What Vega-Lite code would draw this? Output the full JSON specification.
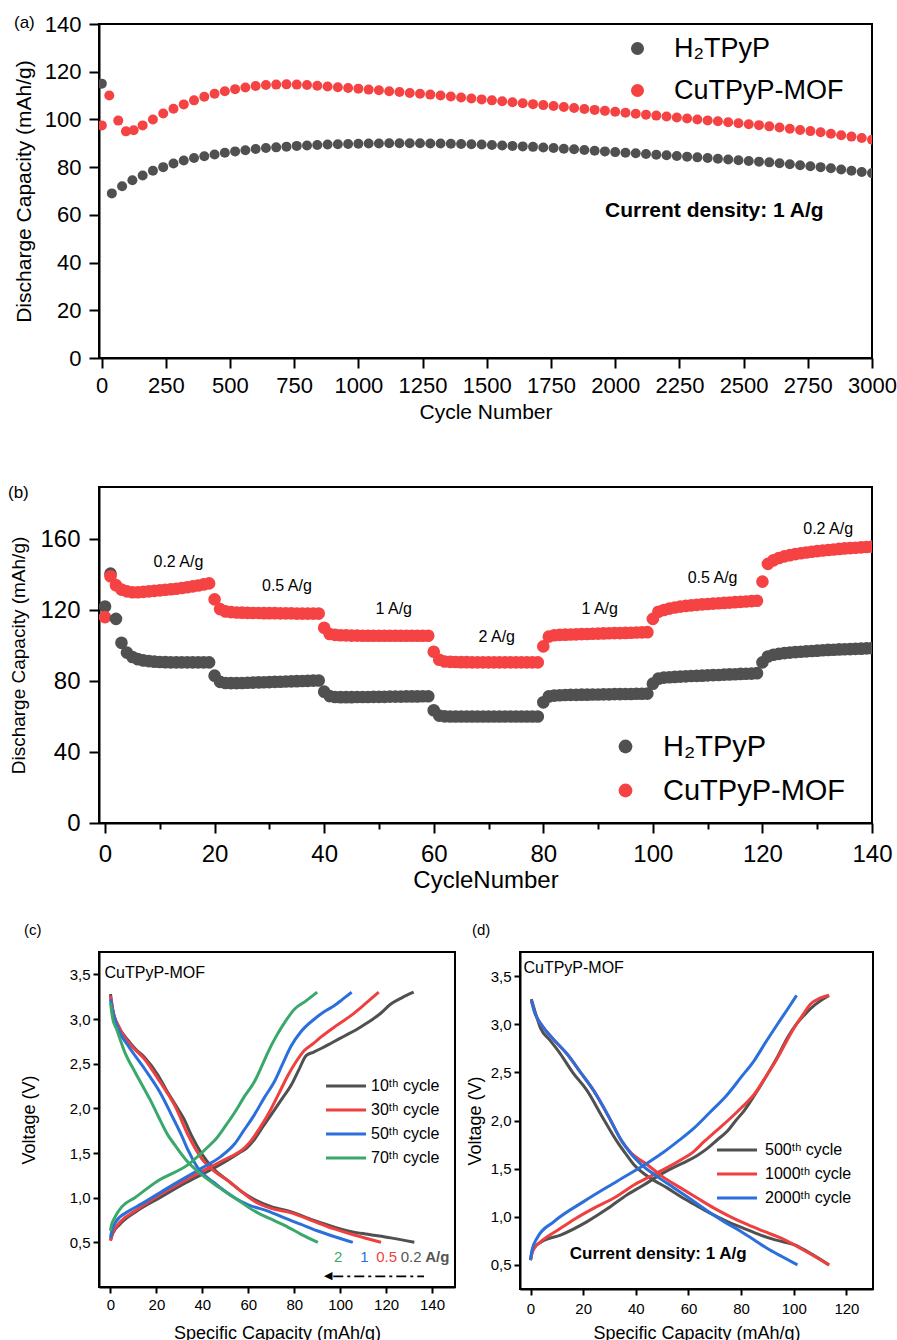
{
  "$schema": "https://vega.github.io/schema/vega-lite/v6.json",
  "padding": {"left": 7, "top": 12, "right": 5, "bottom": 5},
  "background": "white",
  "config": {
    "font": "Liberation Sans",
    "view": {"stroke": "black", "strokeWidth": 2},
    "axis": {"grid": false, "domainColor": "black", "domainWidth": 2, "tickColor": "black", "tickWidth": 2, "labelColor": "black", "titleColor": "black", "titleFontWeight": "normal", "labelOverlap": false, "labelFlush": false, "labelBound": false, "labelFont": "Liberation Sans", "titleFont": "Liberation Sans"},
    "legend": {"labelFont": "Liberation Sans", "labelColor": "black", "padding": 0},
    "title": {"font": "Liberation Sans", "fontWeight": "normal", "color": "black"}
  },
  "spacing": 129,
  "bounds": "flush",
  "resolve": {"scale": {"color": "independent", "x": "independent", "y": "independent"}, "legend": {"color": "independent"}},
  "vconcat": [
        {
          "width": 773,
          "height": 334,
          "title": {"text": "(a)", "anchor": "start", "frame": "group", "offset": 0, "dx": -85, "dy": 19, "fontSize": 17},
          "layer": [
            {
              "data": {"values": [
                {"cycle":1,"H₂TPyP":115,"CuTPyP-MOF":97.5},{"cycle":30,"H₂TPyP":null,"CuTPyP-MOF":110},{"cycle":40,"H₂TPyP":69,"CuTPyP-MOF":null},{"cycle":65,"H₂TPyP":null,"CuTPyP-MOF":99.5},{"cycle":80,"H₂TPyP":72,"CuTPyP-MOF":null},{"cycle":95,"H₂TPyP":null,"CuTPyP-MOF":95},{"cycle":120,"H₂TPyP":74.5,"CuTPyP-MOF":null},{"cycle":125,"H₂TPyP":null,"CuTPyP-MOF":95.5},
                {"cycle":160,"H₂TPyP":76.5,"CuTPyP-MOF":97.5},{"cycle":200,"H₂TPyP":78.5,"CuTPyP-MOF":100},{"cycle":240,"H₂TPyP":80,"CuTPyP-MOF":102.5},{"cycle":280,"H₂TPyP":81.5,"CuTPyP-MOF":104.5},{"cycle":320,"H₂TPyP":82.8,"CuTPyP-MOF":106.3},{"cycle":360,"H₂TPyP":83.8,"CuTPyP-MOF":108},{"cycle":400,"H₂TPyP":84.6,"CuTPyP-MOF":109.5},{"cycle":440,"H₂TPyP":85.3,"CuTPyP-MOF":110.8},{"cycle":480,"H₂TPyP":86,"CuTPyP-MOF":111.8},{"cycle":520,"H₂TPyP":86.6,"CuTPyP-MOF":112.7},{"cycle":560,"H₂TPyP":87.1,"CuTPyP-MOF":113.4},{"cycle":600,"H₂TPyP":87.6,"CuTPyP-MOF":114},{"cycle":640,"H₂TPyP":88,"CuTPyP-MOF":114.4},{"cycle":680,"H₂TPyP":88.3,"CuTPyP-MOF":114.6},{"cycle":720,"H₂TPyP":88.6,"CuTPyP-MOF":114.7},{"cycle":760,"H₂TPyP":88.9,"CuTPyP-MOF":114.6},{"cycle":800,"H₂TPyP":89.1,"CuTPyP-MOF":114.4},{"cycle":840,"H₂TPyP":89.3,"CuTPyP-MOF":114.1},{"cycle":880,"H₂TPyP":89.5,"CuTPyP-MOF":113.8},{"cycle":920,"H₂TPyP":89.6,"CuTPyP-MOF":113.5},{"cycle":960,"H₂TPyP":89.7,"CuTPyP-MOF":113.2},{"cycle":1000,"H₂TPyP":89.8,"CuTPyP-MOF":112.9},{"cycle":1040,"H₂TPyP":89.9,"CuTPyP-MOF":112.5},{"cycle":1080,"H₂TPyP":89.9,"CuTPyP-MOF":112.2},{"cycle":1120,"H₂TPyP":90,"CuTPyP-MOF":111.8},{"cycle":1160,"H₂TPyP":90,"CuTPyP-MOF":111.5},{"cycle":1200,"H₂TPyP":90,"CuTPyP-MOF":111.1},{"cycle":1240,"H₂TPyP":90,"CuTPyP-MOF":110.8},{"cycle":1280,"H₂TPyP":89.9,"CuTPyP-MOF":110.4},{"cycle":1320,"H₂TPyP":89.9,"CuTPyP-MOF":110},{"cycle":1360,"H₂TPyP":89.8,"CuTPyP-MOF":109.6},{"cycle":1400,"H₂TPyP":89.7,"CuTPyP-MOF":109.2},{"cycle":1440,"H₂TPyP":89.6,"CuTPyP-MOF":108.8},{"cycle":1480,"H₂TPyP":89.5,"CuTPyP-MOF":108.4},{"cycle":1520,"H₂TPyP":89.3,"CuTPyP-MOF":108},{"cycle":1560,"H₂TPyP":89.1,"CuTPyP-MOF":107.6},{"cycle":1600,"H₂TPyP":88.9,"CuTPyP-MOF":107.2},{"cycle":1640,"H₂TPyP":88.7,"CuTPyP-MOF":106.8},{"cycle":1680,"H₂TPyP":88.5,"CuTPyP-MOF":106.4},{"cycle":1720,"H₂TPyP":88.2,"CuTPyP-MOF":106},{"cycle":1760,"H₂TPyP":88,"CuTPyP-MOF":105.6},{"cycle":1800,"H₂TPyP":87.7,"CuTPyP-MOF":105.2},{"cycle":1840,"H₂TPyP":87.5,"CuTPyP-MOF":104.8},{"cycle":1880,"H₂TPyP":87.2,"CuTPyP-MOF":104.4},{"cycle":1920,"H₂TPyP":86.9,"CuTPyP-MOF":104},{"cycle":1960,"H₂TPyP":86.6,"CuTPyP-MOF":103.6},{"cycle":2000,"H₂TPyP":86.3,"CuTPyP-MOF":103.2},{"cycle":2040,"H₂TPyP":86,"CuTPyP-MOF":102.8},{"cycle":2080,"H₂TPyP":85.8,"CuTPyP-MOF":102.4},{"cycle":2120,"H₂TPyP":85.5,"CuTPyP-MOF":102},{"cycle":2160,"H₂TPyP":85.2,"CuTPyP-MOF":101.6},{"cycle":2200,"H₂TPyP":85,"CuTPyP-MOF":101.2},{"cycle":2240,"H₂TPyP":84.7,"CuTPyP-MOF":100.8},{"cycle":2280,"H₂TPyP":84.4,"CuTPyP-MOF":100.4},{"cycle":2320,"H₂TPyP":84.1,"CuTPyP-MOF":100},{"cycle":2360,"H₂TPyP":83.8,"CuTPyP-MOF":99.6},{"cycle":2400,"H₂TPyP":83.5,"CuTPyP-MOF":99.2},{"cycle":2440,"H₂TPyP":83.2,"CuTPyP-MOF":98.8},{"cycle":2480,"H₂TPyP":82.9,"CuTPyP-MOF":98.4},{"cycle":2520,"H₂TPyP":82.6,"CuTPyP-MOF":98},{"cycle":2560,"H₂TPyP":82.3,"CuTPyP-MOF":97.6},{"cycle":2600,"H₂TPyP":82,"CuTPyP-MOF":97.1},{"cycle":2640,"H₂TPyP":81.6,"CuTPyP-MOF":96.6},{"cycle":2680,"H₂TPyP":81.2,"CuTPyP-MOF":96.1},{"cycle":2720,"H₂TPyP":80.8,"CuTPyP-MOF":95.6},{"cycle":2760,"H₂TPyP":80.4,"CuTPyP-MOF":95.1},{"cycle":2800,"H₂TPyP":80,"CuTPyP-MOF":94.6},{"cycle":2840,"H₂TPyP":79.5,"CuTPyP-MOF":94},{"cycle":2880,"H₂TPyP":79,"CuTPyP-MOF":93.4},{"cycle":2920,"H₂TPyP":78.5,"CuTPyP-MOF":92.8},{"cycle":2960,"H₂TPyP":78,"CuTPyP-MOF":92.2},{"cycle":3000,"H₂TPyP":77.5,"CuTPyP-MOF":91.5}
              ]},
              "transform": [{"fold": ["H₂TPyP", "CuTPyP-MOF"], "as": ["series", "capacity"]}],
              "mark": {"type": "circle", "size": 100, "opacity": 1, "clip": true},
              "encoding": {
                "x": {"field": "cycle", "type": "quantitative", "scale": {"domain": [-10, 3000], "nice": false, "zero": false},
                  "axis": {"values": [0,125,250,375,500,625,750,875,1000,1125,1250,1375,1500,1625,1750,1875,2000,2125,2250,2375,2500,2625,2750,2875,3000], "format": "d",
                    "labelExpr": "datum.value % 250 == 0 ? datum.label : ''",
                    "tickSize": {"condition": {"test": "datum.value % 250 == 0", "value": 10}, "value": 6},
                    "labelFontSize": 22, "labelPadding": 7, "title": "Cycle Number", "titleFontSize": 21, "titleY": 54, "titleBaseline": "middle"}},
                "y": {"field": "capacity", "type": "quantitative", "scale": {"domain": [0, 140], "nice": false},
                  "axis": {"values": [0,10,20,30,40,50,60,70,80,90,100,110,120,130,140], "format": "d",
                    "labelExpr": "datum.value % 20 == 0 ? datum.label : ''",
                    "tickSize": {"condition": {"test": "datum.value % 20 == 0", "value": 10}, "value": 6},
                    "labelFontSize": 22, "labelPadding": 8, "title": "Discharge Capacity (mAh/g)", "titleFontSize": 21, "titleX": -75, "titleBaseline": "middle"}},
                "color": {"field": "series", "type": "nominal", "sort": null,
                  "scale": {"domain": ["H₂TPyP", "CuTPyP-MOF"], "range": ["#505050", "#f54242"]},
                  "legend": {"title": null, "orient": "none", "legendX": 525, "legendY": 11, "symbolSize": 170, "symbolOpacity": 1, "labelFontSize": 27, "labelOffset": 23, "rowPadding": 14, "labelLimit": 400}}
              }
            },
            {
              "data": {"values": [{"cycle": 2386, "capacity": 61.7, "label": "Current density: 1 A/g"}]},
              "mark": {"type": "text", "fontSize": 21, "fontWeight": "bold", "color": "black", "align": "center", "baseline": "middle"},
              "encoding": {"x": {"field": "cycle", "type": "quantitative"}, "y": {"field": "capacity", "type": "quantitative"}, "text": {"field": "label"}}
            }
          ]
        },
        {
          "width": 773,
          "height": 336,
          "title": {"text": "(b)", "anchor": "start", "frame": "group", "offset": 0, "dx": -91, "dy": 15, "fontSize": 17},
          "layer": [
            {
              "data": {"values": [
                {"cycle":0,"H₂TPyP":122,"CuTPyP-MOF":116},{"cycle":1,"H₂TPyP":140.5,"CuTPyP-MOF":139},{"cycle":2,"H₂TPyP":115,"CuTPyP-MOF":134},{"cycle":3,"H₂TPyP":101.5,"CuTPyP-MOF":131.5},{"cycle":4,"H₂TPyP":96,"CuTPyP-MOF":130.5},{"cycle":5,"H₂TPyP":93.5,"CuTPyP-MOF":130},{"cycle":6,"H₂TPyP":92.3,"CuTPyP-MOF":130},{"cycle":7,"H₂TPyP":91.6,"CuTPyP-MOF":130.2},{"cycle":8,"H₂TPyP":91.2,"CuTPyP-MOF":130.5},{"cycle":9,"H₂TPyP":90.9,"CuTPyP-MOF":130.8},
                {"cycle":10,"H₂TPyP":90.7,"CuTPyP-MOF":131.1},{"cycle":11,"H₂TPyP":90.6,"CuTPyP-MOF":131.4},{"cycle":12,"H₂TPyP":90.5,"CuTPyP-MOF":131.7},{"cycle":13,"H₂TPyP":90.5,"CuTPyP-MOF":132},{"cycle":14,"H₂TPyP":90.5,"CuTPyP-MOF":132.4},{"cycle":15,"H₂TPyP":90.5,"CuTPyP-MOF":132.8},{"cycle":16,"H₂TPyP":90.5,"CuTPyP-MOF":133.3},{"cycle":17,"H₂TPyP":90.5,"CuTPyP-MOF":133.8},{"cycle":18,"H₂TPyP":90.5,"CuTPyP-MOF":134.4},{"cycle":19,"H₂TPyP":90.5,"CuTPyP-MOF":135},
                {"cycle":20,"H₂TPyP":83,"CuTPyP-MOF":126},{"cycle":21,"H₂TPyP":79.5,"CuTPyP-MOF":120.5},{"cycle":22,"H₂TPyP":78.9,"CuTPyP-MOF":119.2},{"cycle":23,"H₂TPyP":78.8,"CuTPyP-MOF":118.8},{"cycle":24,"H₂TPyP":78.8,"CuTPyP-MOF":118.6},{"cycle":25,"H₂TPyP":78.9,"CuTPyP-MOF":118.5},{"cycle":26,"H₂TPyP":79,"CuTPyP-MOF":118.4},{"cycle":27,"H₂TPyP":79.1,"CuTPyP-MOF":118.3},{"cycle":28,"H₂TPyP":79.2,"CuTPyP-MOF":118.3},{"cycle":29,"H₂TPyP":79.3,"CuTPyP-MOF":118.2},
                {"cycle":30,"H₂TPyP":79.4,"CuTPyP-MOF":118.2},{"cycle":31,"H₂TPyP":79.5,"CuTPyP-MOF":118.2},{"cycle":32,"H₂TPyP":79.6,"CuTPyP-MOF":118.1},{"cycle":33,"H₂TPyP":79.7,"CuTPyP-MOF":118.1},{"cycle":34,"H₂TPyP":79.8,"CuTPyP-MOF":118.1},{"cycle":35,"H₂TPyP":79.9,"CuTPyP-MOF":118},{"cycle":36,"H₂TPyP":80,"CuTPyP-MOF":118},{"cycle":37,"H₂TPyP":80.1,"CuTPyP-MOF":118},{"cycle":38,"H₂TPyP":80.2,"CuTPyP-MOF":118},{"cycle":39,"H₂TPyP":80.3,"CuTPyP-MOF":118},
                {"cycle":40,"H₂TPyP":74,"CuTPyP-MOF":110},{"cycle":41,"H₂TPyP":71.5,"CuTPyP-MOF":106.5},{"cycle":42,"H₂TPyP":71,"CuTPyP-MOF":106},{"cycle":43,"H₂TPyP":70.9,"CuTPyP-MOF":105.8},{"cycle":44,"H₂TPyP":70.9,"CuTPyP-MOF":105.7},{"cycle":45,"H₂TPyP":70.9,"CuTPyP-MOF":105.6},{"cycle":46,"H₂TPyP":71,"CuTPyP-MOF":105.6},{"cycle":47,"H₂TPyP":71,"CuTPyP-MOF":105.5},{"cycle":48,"H₂TPyP":71,"CuTPyP-MOF":105.5},{"cycle":49,"H₂TPyP":71.1,"CuTPyP-MOF":105.5},
                {"cycle":50,"H₂TPyP":71.1,"CuTPyP-MOF":105.5},{"cycle":51,"H₂TPyP":71.1,"CuTPyP-MOF":105.5},{"cycle":52,"H₂TPyP":71.2,"CuTPyP-MOF":105.5},{"cycle":53,"H₂TPyP":71.2,"CuTPyP-MOF":105.5},{"cycle":54,"H₂TPyP":71.2,"CuTPyP-MOF":105.5},{"cycle":55,"H₂TPyP":71.3,"CuTPyP-MOF":105.5},{"cycle":56,"H₂TPyP":71.3,"CuTPyP-MOF":105.5},{"cycle":57,"H₂TPyP":71.3,"CuTPyP-MOF":105.5},{"cycle":58,"H₂TPyP":71.4,"CuTPyP-MOF":105.5},{"cycle":59,"H₂TPyP":71.4,"CuTPyP-MOF":105.5},
                {"cycle":60,"H₂TPyP":63.5,"CuTPyP-MOF":96.5},{"cycle":61,"H₂TPyP":60.5,"CuTPyP-MOF":92},{"cycle":62,"H₂TPyP":60.1,"CuTPyP-MOF":91},{"cycle":63,"H₂TPyP":60,"CuTPyP-MOF":90.8},{"cycle":64,"H₂TPyP":60,"CuTPyP-MOF":90.7},{"cycle":65,"H₂TPyP":60,"CuTPyP-MOF":90.6},{"cycle":66,"H₂TPyP":60,"CuTPyP-MOF":90.6},{"cycle":67,"H₂TPyP":60,"CuTPyP-MOF":90.5},{"cycle":68,"H₂TPyP":60,"CuTPyP-MOF":90.5},{"cycle":69,"H₂TPyP":60,"CuTPyP-MOF":90.5},
                {"cycle":70,"H₂TPyP":60,"CuTPyP-MOF":90.5},{"cycle":71,"H₂TPyP":60,"CuTPyP-MOF":90.5},{"cycle":72,"H₂TPyP":60,"CuTPyP-MOF":90.5},{"cycle":73,"H₂TPyP":60,"CuTPyP-MOF":90.5},{"cycle":74,"H₂TPyP":60,"CuTPyP-MOF":90.5},{"cycle":75,"H₂TPyP":60,"CuTPyP-MOF":90.5},{"cycle":76,"H₂TPyP":60,"CuTPyP-MOF":90.5},{"cycle":77,"H₂TPyP":60,"CuTPyP-MOF":90.5},{"cycle":78,"H₂TPyP":60,"CuTPyP-MOF":90.5},{"cycle":79,"H₂TPyP":60,"CuTPyP-MOF":90.5},
                {"cycle":80,"H₂TPyP":68,"CuTPyP-MOF":99.5},{"cycle":81,"H₂TPyP":71.3,"CuTPyP-MOF":105},{"cycle":82,"H₂TPyP":71.8,"CuTPyP-MOF":105.8},{"cycle":83,"H₂TPyP":72,"CuTPyP-MOF":106},{"cycle":84,"H₂TPyP":72.1,"CuTPyP-MOF":106.1},{"cycle":85,"H₂TPyP":72.2,"CuTPyP-MOF":106.2},{"cycle":86,"H₂TPyP":72.2,"CuTPyP-MOF":106.3},{"cycle":87,"H₂TPyP":72.3,"CuTPyP-MOF":106.4},{"cycle":88,"H₂TPyP":72.3,"CuTPyP-MOF":106.5},{"cycle":89,"H₂TPyP":72.4,"CuTPyP-MOF":106.6},
                {"cycle":90,"H₂TPyP":72.4,"CuTPyP-MOF":106.7},{"cycle":91,"H₂TPyP":72.5,"CuTPyP-MOF":106.8},{"cycle":92,"H₂TPyP":72.5,"CuTPyP-MOF":106.9},{"cycle":93,"H₂TPyP":72.6,"CuTPyP-MOF":107},{"cycle":94,"H₂TPyP":72.6,"CuTPyP-MOF":107},{"cycle":95,"H₂TPyP":72.7,"CuTPyP-MOF":107.1},{"cycle":96,"H₂TPyP":72.7,"CuTPyP-MOF":107.2},{"cycle":97,"H₂TPyP":72.8,"CuTPyP-MOF":107.3},{"cycle":98,"H₂TPyP":72.8,"CuTPyP-MOF":107.4},{"cycle":99,"H₂TPyP":72.9,"CuTPyP-MOF":107.5},
                {"cycle":100,"H₂TPyP":78.5,"CuTPyP-MOF":115},{"cycle":101,"H₂TPyP":81.3,"CuTPyP-MOF":119},{"cycle":102,"H₂TPyP":81.9,"CuTPyP-MOF":120},{"cycle":103,"H₂TPyP":82.1,"CuTPyP-MOF":120.8},{"cycle":104,"H₂TPyP":82.3,"CuTPyP-MOF":121.4},{"cycle":105,"H₂TPyP":82.5,"CuTPyP-MOF":121.9},{"cycle":106,"H₂TPyP":82.6,"CuTPyP-MOF":122.3},{"cycle":107,"H₂TPyP":82.8,"CuTPyP-MOF":122.6},{"cycle":108,"H₂TPyP":82.9,"CuTPyP-MOF":122.9},{"cycle":109,"H₂TPyP":83,"CuTPyP-MOF":123.2},
                {"cycle":110,"H₂TPyP":83.2,"CuTPyP-MOF":123.4},{"cycle":111,"H₂TPyP":83.3,"CuTPyP-MOF":123.6},{"cycle":112,"H₂TPyP":83.4,"CuTPyP-MOF":123.8},{"cycle":113,"H₂TPyP":83.6,"CuTPyP-MOF":124},{"cycle":114,"H₂TPyP":83.7,"CuTPyP-MOF":124.2},{"cycle":115,"H₂TPyP":83.8,"CuTPyP-MOF":124.4},{"cycle":116,"H₂TPyP":84,"CuTPyP-MOF":124.6},{"cycle":117,"H₂TPyP":84.1,"CuTPyP-MOF":124.8},{"cycle":118,"H₂TPyP":84.2,"CuTPyP-MOF":125},{"cycle":119,"H₂TPyP":84.4,"CuTPyP-MOF":125.2},
                {"cycle":120,"H₂TPyP":90.5,"CuTPyP-MOF":136},{"cycle":121,"H₂TPyP":93.8,"CuTPyP-MOF":146},{"cycle":122,"H₂TPyP":94.8,"CuTPyP-MOF":148},{"cycle":123,"H₂TPyP":95.3,"CuTPyP-MOF":149.3},{"cycle":124,"H₂TPyP":95.7,"CuTPyP-MOF":150.2},{"cycle":125,"H₂TPyP":96,"CuTPyP-MOF":150.9},{"cycle":126,"H₂TPyP":96.3,"CuTPyP-MOF":151.5},{"cycle":127,"H₂TPyP":96.5,"CuTPyP-MOF":152},{"cycle":128,"H₂TPyP":96.7,"CuTPyP-MOF":152.4},{"cycle":129,"H₂TPyP":96.9,"CuTPyP-MOF":152.8},
                {"cycle":130,"H₂TPyP":97.1,"CuTPyP-MOF":153.2},{"cycle":131,"H₂TPyP":97.3,"CuTPyP-MOF":153.5},{"cycle":132,"H₂TPyP":97.5,"CuTPyP-MOF":153.8},{"cycle":133,"H₂TPyP":97.6,"CuTPyP-MOF":154.1},{"cycle":134,"H₂TPyP":97.8,"CuTPyP-MOF":154.4},{"cycle":135,"H₂TPyP":97.9,"CuTPyP-MOF":154.7},{"cycle":136,"H₂TPyP":98,"CuTPyP-MOF":154.9},{"cycle":137,"H₂TPyP":98.1,"CuTPyP-MOF":155.1},{"cycle":138,"H₂TPyP":98.2,"CuTPyP-MOF":155.3},{"cycle":139,"H₂TPyP":98.4,"CuTPyP-MOF":155.5},{"cycle":140,"H₂TPyP":98.5,"CuTPyP-MOF":155.7}
              ]},
              "transform": [{"fold": ["H₂TPyP", "CuTPyP-MOF"], "as": ["series", "capacity"]}],
              "mark": {"type": "circle", "size": 160, "opacity": 1, "clip": true},
              "encoding": {
                "x": {"field": "cycle", "type": "quantitative", "scale": {"domain": [-1.1, 140], "nice": false, "zero": false},
                  "axis": {"values": [0,10,20,30,40,50,60,70,80,90,100,110,120,130,140], "format": "d",
                    "labelExpr": "datum.value % 20 == 0 ? datum.label : ''",
                    "tickSize": {"condition": {"test": "datum.value % 20 == 0", "value": 10}, "value": 6},
                    "labelFontSize": 24, "labelPadding": 9, "title": "CycleNumber", "titleFontSize": 24, "titleY": 57, "titleBaseline": "middle"}},
                "y": {"field": "capacity", "type": "quantitative", "scale": {"domain": [0, 189.3], "nice": false},
                  "axis": {"values": [0,10,20,30,40,50,60,70,80,90,100,110,120,130,140,150,160,170,180], "format": "d",
                    "labelExpr": "datum.value % 20 == 0 ? datum.label : ''",
                    "tickSize": {"condition": {"test": "datum.value % 20 == 0", "value": 10}, "value": 6},
                    "labelFontSize": 24, "labelPadding": 9, "title": "Discharge Capacity (mAh/g)", "titleFontSize": 19, "titleX": -81, "titleBaseline": "middle"}},
                "color": {"field": "series", "type": "nominal", "sort": null,
                  "scale": {"domain": ["H₂TPyP", "CuTPyP-MOF"], "range": ["#505050", "#f54242"]},
                  "legend": {"title": null, "orient": "none", "legendX": 512, "legendY": 245, "symbolSize": 190, "symbolOpacity": 1, "labelFontSize": 29, "labelOffset": 23, "rowPadding": 14, "labelLimit": 400}}
              }
            },
            {
              "data": {"values": [
                {"cycle": 13.4, "capacity": 147, "label": "0.2 A/g"},
                {"cycle": 33.2, "capacity": 133.4, "label": "0.5 A/g"},
                {"cycle": 52.7, "capacity": 120.4, "label": "1 A/g"},
                {"cycle": 71.5, "capacity": 105, "label": "2 A/g"},
                {"cycle": 90.3, "capacity": 120.3, "label": "1 A/g"},
                {"cycle": 110.9, "capacity": 137.9, "label": "0.5 A/g"},
                {"cycle": 132, "capacity": 165.5, "label": "0.2 A/g"}
              ]},
              "mark": {"type": "text", "fontSize": 16, "color": "black", "align": "center", "baseline": "middle"},
              "encoding": {"x": {"field": "cycle", "type": "quantitative"}, "y": {"field": "capacity", "type": "quantitative"}, "text": {"field": "label"}}
            }
          ]
        },
    {
      "spacing": 65,
      "bounds": "flush",
      "resolve": {"scale": {"color": "independent", "x": "independent", "y": "independent"}, "legend": {"color": "independent"}},
      "hconcat": [
        {
          "width": 356,
          "height": 335,
          "title": {"text": "(c)", "anchor": "start", "frame": "group", "offset": 0, "dx": -75, "dy": -14, "fontSize": 15},
          "layer": [
            {
              "data": {"values": [
                {"cycle":"10ᵗʰ cycle","mode":"ch","cap":0,"volt":0.52},{"cycle":"10ᵗʰ cycle","mode":"ch","cap":1,"volt":0.6},{"cycle":"10ᵗʰ cycle","mode":"ch","cap":4,"volt":0.7},{"cycle":"10ᵗʰ cycle","mode":"ch","cap":11.5,"volt":0.85},{"cycle":"10ᵗʰ cycle","mode":"ch","cap":21.5,"volt":1.0},{"cycle":"10ᵗʰ cycle","mode":"ch","cap":33,"volt":1.17},{"cycle":"10ᵗʰ cycle","mode":"ch","cap":43.5,"volt":1.31},{"cycle":"10ᵗʰ cycle","mode":"ch","cap":51,"volt":1.42},{"cycle":"10ᵗʰ cycle","mode":"ch","cap":56,"volt":1.5},{"cycle":"10ᵗʰ cycle","mode":"ch","cap":59.5,"volt":1.56},{"cycle":"10ᵗʰ cycle","mode":"ch","cap":62,"volt":1.63},{"cycle":"10ᵗʰ cycle","mode":"ch","cap":66,"volt":1.78},{"cycle":"10ᵗʰ cycle","mode":"ch","cap":70,"volt":1.93},{"cycle":"10ᵗʰ cycle","mode":"ch","cap":74.5,"volt":2.1},{"cycle":"10ᵗʰ cycle","mode":"ch","cap":78.7,"volt":2.26},{"cycle":"10ᵗʰ cycle","mode":"ch","cap":82,"volt":2.43},{"cycle":"10ᵗʰ cycle","mode":"ch","cap":85.2,"volt":2.59},{"cycle":"10ᵗʰ cycle","mode":"ch","cap":88.5,"volt":2.63},{"cycle":"10ᵗʰ cycle","mode":"ch","cap":91.7,"volt":2.67},{"cycle":"10ᵗʰ cycle","mode":"ch","cap":96.8,"volt":2.74},{"cycle":"10ᵗʰ cycle","mode":"ch","cap":101.9,"volt":2.81},{"cycle":"10ᵗʰ cycle","mode":"ch","cap":107,"volt":2.88},{"cycle":"10ᵗʰ cycle","mode":"ch","cap":112,"volt":2.96},{"cycle":"10ᵗʰ cycle","mode":"ch","cap":117,"volt":3.05},{"cycle":"10ᵗʰ cycle","mode":"ch","cap":122.2,"volt":3.17},{"cycle":"10ᵗʰ cycle","mode":"ch","cap":127,"volt":3.24},{"cycle":"10ᵗʰ cycle","mode":"ch","cap":132,"volt":3.3},
                {"cycle":"10ᵗʰ cycle","mode":"dis","cap":0,"volt":3.28},{"cycle":"10ᵗʰ cycle","mode":"dis","cap":1,"volt":3.1},{"cycle":"10ᵗʰ cycle","mode":"dis","cap":3.3,"volt":2.93},{"cycle":"10ᵗʰ cycle","mode":"dis","cap":7.7,"volt":2.76},{"cycle":"10ᵗʰ cycle","mode":"dis","cap":11,"volt":2.66},{"cycle":"10ᵗʰ cycle","mode":"dis","cap":14.9,"volt":2.57},{"cycle":"10ᵗʰ cycle","mode":"dis","cap":20.7,"volt":2.37},{"cycle":"10ᵗʰ cycle","mode":"dis","cap":24,"volt":2.22},{"cycle":"10ᵗʰ cycle","mode":"dis","cap":28,"volt":2.05},{"cycle":"10ᵗʰ cycle","mode":"dis","cap":32,"volt":1.88},{"cycle":"10ᵗʰ cycle","mode":"dis","cap":35.2,"volt":1.7},{"cycle":"10ᵗʰ cycle","mode":"dis","cap":39.5,"volt":1.5},{"cycle":"10ᵗʰ cycle","mode":"dis","cap":45,"volt":1.32},{"cycle":"10ᵗʰ cycle","mode":"dis","cap":51.2,"volt":1.19},{"cycle":"10ᵗʰ cycle","mode":"dis","cap":57,"volt":1.07},{"cycle":"10ᵗʰ cycle","mode":"dis","cap":62.7,"volt":0.98},{"cycle":"10ᵗʰ cycle","mode":"dis","cap":70,"volt":0.9},{"cycle":"10ᵗʰ cycle","mode":"dis","cap":78.7,"volt":0.84},{"cycle":"10ᵗʰ cycle","mode":"dis","cap":88,"volt":0.75},{"cycle":"10ᵗʰ cycle","mode":"dis","cap":97.5,"volt":0.67},{"cycle":"10ᵗʰ cycle","mode":"dis","cap":105,"volt":0.62},{"cycle":"10ᵗʰ cycle","mode":"dis","cap":112,"volt":0.59},{"cycle":"10ᵗʰ cycle","mode":"dis","cap":122,"volt":0.55},{"cycle":"10ᵗʰ cycle","mode":"dis","cap":132.3,"volt":0.5},
                {"cycle":"30ᵗʰ cycle","mode":"ch","cap":0,"volt":0.52},{"cycle":"30ᵗʰ cycle","mode":"ch","cap":0.8,"volt":0.6},{"cycle":"30ᵗʰ cycle","mode":"ch","cap":3.3,"volt":0.7},{"cycle":"30ᵗʰ cycle","mode":"ch","cap":10.6,"volt":0.85},{"cycle":"30ᵗʰ cycle","mode":"ch","cap":20.7,"volt":1.02},{"cycle":"30ᵗʰ cycle","mode":"ch","cap":32.3,"volt":1.19},{"cycle":"30ᵗʰ cycle","mode":"ch","cap":42.5,"volt":1.33},{"cycle":"30ᵗʰ cycle","mode":"ch","cap":50,"volt":1.43},{"cycle":"30ᵗʰ cycle","mode":"ch","cap":54,"volt":1.48},{"cycle":"30ᵗʰ cycle","mode":"ch","cap":58,"volt":1.55},{"cycle":"30ᵗʰ cycle","mode":"ch","cap":61,"volt":1.63},{"cycle":"30ᵗʰ cycle","mode":"ch","cap":65,"volt":1.78},{"cycle":"30ᵗʰ cycle","mode":"ch","cap":68.6,"volt":1.93},{"cycle":"30ᵗʰ cycle","mode":"ch","cap":73,"volt":2.15},{"cycle":"30ᵗʰ cycle","mode":"ch","cap":77.3,"volt":2.37},{"cycle":"30ᵗʰ cycle","mode":"ch","cap":81,"volt":2.53},{"cycle":"30ᵗʰ cycle","mode":"ch","cap":84.5,"volt":2.65},{"cycle":"30ᵗʰ cycle","mode":"ch","cap":88,"volt":2.72},{"cycle":"30ᵗʰ cycle","mode":"ch","cap":91.7,"volt":2.8},{"cycle":"30ᵗʰ cycle","mode":"ch","cap":98,"volt":2.92},{"cycle":"30ᵗʰ cycle","mode":"ch","cap":104.8,"volt":3.04},{"cycle":"30ᵗʰ cycle","mode":"ch","cap":110,"volt":3.15},{"cycle":"30ᵗʰ cycle","mode":"ch","cap":116.8,"volt":3.3},
                {"cycle":"30ᵗʰ cycle","mode":"dis","cap":0,"volt":3.26},{"cycle":"30ᵗʰ cycle","mode":"dis","cap":1,"volt":3.1},{"cycle":"30ᵗʰ cycle","mode":"dis","cap":4,"volt":2.89},{"cycle":"30ᵗʰ cycle","mode":"dis","cap":9.1,"volt":2.7},{"cycle":"30ᵗʰ cycle","mode":"dis","cap":14.9,"volt":2.55},{"cycle":"30ᵗʰ cycle","mode":"dis","cap":20.7,"volt":2.33},{"cycle":"30ᵗʰ cycle","mode":"dis","cap":24,"volt":2.2},{"cycle":"30ᵗʰ cycle","mode":"dis","cap":28,"volt":2.03},{"cycle":"30ᵗʰ cycle","mode":"dis","cap":33.8,"volt":1.7},{"cycle":"30ᵗʰ cycle","mode":"dis","cap":39.6,"volt":1.44},{"cycle":"30ᵗʰ cycle","mode":"dis","cap":45,"volt":1.3},{"cycle":"30ᵗʰ cycle","mode":"dis","cap":51.2,"volt":1.19},{"cycle":"30ᵗʰ cycle","mode":"dis","cap":57,"volt":1.07},{"cycle":"30ᵗʰ cycle","mode":"dis","cap":62.7,"volt":0.96},{"cycle":"30ᵗʰ cycle","mode":"dis","cap":70,"volt":0.88},{"cycle":"30ᵗʰ cycle","mode":"dis","cap":78.7,"volt":0.83},{"cycle":"30ᵗʰ cycle","mode":"dis","cap":88,"volt":0.74},{"cycle":"30ᵗʰ cycle","mode":"dis","cap":97.5,"volt":0.65},{"cycle":"30ᵗʰ cycle","mode":"dis","cap":105,"volt":0.59},{"cycle":"30ᵗʰ cycle","mode":"dis","cap":112,"volt":0.54},{"cycle":"30ᵗʰ cycle","mode":"dis","cap":117.8,"volt":0.5},
                {"cycle":"50ᵗʰ cycle","mode":"ch","cap":0,"volt":0.55},{"cycle":"50ᵗʰ cycle","mode":"ch","cap":0.5,"volt":0.62},{"cycle":"50ᵗʰ cycle","mode":"ch","cap":2.6,"volt":0.74},{"cycle":"50ᵗʰ cycle","mode":"ch","cap":8,"volt":0.85},{"cycle":"50ᵗʰ cycle","mode":"ch","cap":13.5,"volt":0.93},{"cycle":"50ᵗʰ cycle","mode":"ch","cap":25,"volt":1.11},{"cycle":"50ᵗʰ cycle","mode":"ch","cap":39.6,"volt":1.33},{"cycle":"50ᵗʰ cycle","mode":"ch","cap":48,"volt":1.46},{"cycle":"50ᵗʰ cycle","mode":"ch","cap":54,"volt":1.6},{"cycle":"50ᵗʰ cycle","mode":"ch","cap":58,"volt":1.75},{"cycle":"50ᵗʰ cycle","mode":"ch","cap":62.7,"volt":1.93},{"cycle":"50ᵗʰ cycle","mode":"ch","cap":67,"volt":2.12},{"cycle":"50ᵗʰ cycle","mode":"ch","cap":71.4,"volt":2.3},{"cycle":"50ᵗʰ cycle","mode":"ch","cap":75,"volt":2.5},{"cycle":"50ᵗʰ cycle","mode":"ch","cap":78.7,"volt":2.7},{"cycle":"50ᵗʰ cycle","mode":"ch","cap":83,"volt":2.86},{"cycle":"50ᵗʰ cycle","mode":"ch","cap":88.8,"volt":3.0},{"cycle":"50ᵗʰ cycle","mode":"ch","cap":93,"volt":3.08},{"cycle":"50ᵗʰ cycle","mode":"ch","cap":97.5,"volt":3.15},{"cycle":"50ᵗʰ cycle","mode":"ch","cap":101,"volt":3.22},{"cycle":"50ᵗʰ cycle","mode":"ch","cap":105,"volt":3.3},
                {"cycle":"50ᵗʰ cycle","mode":"dis","cap":0,"volt":3.22},{"cycle":"50ᵗʰ cycle","mode":"dis","cap":1,"volt":3.08},{"cycle":"50ᵗʰ cycle","mode":"dis","cap":3.3,"volt":2.89},{"cycle":"50ᵗʰ cycle","mode":"dis","cap":7.7,"volt":2.7},{"cycle":"50ᵗʰ cycle","mode":"dis","cap":14.9,"volt":2.44},{"cycle":"50ᵗʰ cycle","mode":"dis","cap":22.2,"volt":2.15},{"cycle":"50ᵗʰ cycle","mode":"dis","cap":26.5,"volt":1.93},{"cycle":"50ᵗʰ cycle","mode":"dis","cap":30.9,"volt":1.7},{"cycle":"50ᵗʰ cycle","mode":"dis","cap":34,"volt":1.52},{"cycle":"50ᵗʰ cycle","mode":"dis","cap":38.1,"volt":1.33},{"cycle":"50ᵗʰ cycle","mode":"dis","cap":45,"volt":1.17},{"cycle":"50ᵗʰ cycle","mode":"dis","cap":54,"volt":1.0},{"cycle":"50ᵗʰ cycle","mode":"dis","cap":60,"volt":0.92},{"cycle":"50ᵗʰ cycle","mode":"dis","cap":68.6,"volt":0.85},{"cycle":"50ᵗʰ cycle","mode":"dis","cap":76,"volt":0.77},{"cycle":"50ᵗʰ cycle","mode":"dis","cap":83,"volt":0.7},{"cycle":"50ᵗʰ cycle","mode":"dis","cap":90,"volt":0.63},{"cycle":"50ᵗʰ cycle","mode":"dis","cap":98,"volt":0.56},{"cycle":"50ᵗʰ cycle","mode":"dis","cap":105.5,"volt":0.5},
                {"cycle":"70ᵗʰ cycle","mode":"ch","cap":0,"volt":0.63},{"cycle":"70ᵗʰ cycle","mode":"ch","cap":0.3,"volt":0.68},{"cycle":"70ᵗʰ cycle","mode":"ch","cap":1.9,"volt":0.78},{"cycle":"70ᵗʰ cycle","mode":"ch","cap":5,"volt":0.9},{"cycle":"70ᵗʰ cycle","mode":"ch","cap":10.6,"volt":1.0},{"cycle":"70ᵗʰ cycle","mode":"ch","cap":20.7,"volt":1.19},{"cycle":"70ᵗʰ cycle","mode":"ch","cap":33.8,"volt":1.37},{"cycle":"70ᵗʰ cycle","mode":"ch","cap":42.5,"volt":1.57},{"cycle":"70ᵗʰ cycle","mode":"ch","cap":46,"volt":1.66},{"cycle":"70ᵗʰ cycle","mode":"ch","cap":50,"volt":1.8},{"cycle":"70ᵗʰ cycle","mode":"ch","cap":54,"volt":1.95},{"cycle":"70ᵗʰ cycle","mode":"ch","cap":58,"volt":2.12},{"cycle":"70ᵗʰ cycle","mode":"ch","cap":62.7,"volt":2.3},{"cycle":"70ᵗʰ cycle","mode":"ch","cap":66,"volt":2.48},{"cycle":"70ᵗʰ cycle","mode":"ch","cap":68.6,"volt":2.63},{"cycle":"70ᵗʰ cycle","mode":"ch","cap":72,"volt":2.8},{"cycle":"70ᵗʰ cycle","mode":"ch","cap":75.8,"volt":2.96},{"cycle":"70ᵗʰ cycle","mode":"ch","cap":80.1,"volt":3.11},{"cycle":"70ᵗʰ cycle","mode":"ch","cap":85,"volt":3.2},{"cycle":"70ᵗʰ cycle","mode":"ch","cap":90,"volt":3.3},
                {"cycle":"70ᵗʰ cycle","mode":"dis","cap":0,"volt":3.18},{"cycle":"70ᵗʰ cycle","mode":"dis","cap":1,"volt":3.0},{"cycle":"70ᵗʰ cycle","mode":"dis","cap":2.6,"volt":2.89},{"cycle":"70ᵗʰ cycle","mode":"dis","cap":6.2,"volt":2.63},{"cycle":"70ᵗʰ cycle","mode":"dis","cap":10.6,"volt":2.41},{"cycle":"70ᵗʰ cycle","mode":"dis","cap":14,"volt":2.25},{"cycle":"70ᵗʰ cycle","mode":"dis","cap":17.8,"volt":2.07},{"cycle":"70ᵗʰ cycle","mode":"dis","cap":21,"volt":1.9},{"cycle":"70ᵗʰ cycle","mode":"dis","cap":25,"volt":1.7},{"cycle":"70ᵗʰ cycle","mode":"dis","cap":28,"volt":1.59},{"cycle":"70ᵗʰ cycle","mode":"dis","cap":33,"volt":1.42},{"cycle":"70ᵗʰ cycle","mode":"dis","cap":39.6,"volt":1.26},{"cycle":"70ᵗʰ cycle","mode":"dis","cap":47,"volt":1.12},{"cycle":"70ᵗʰ cycle","mode":"dis","cap":54,"volt":1.0},{"cycle":"70ᵗʰ cycle","mode":"dis","cap":62.7,"volt":0.85},{"cycle":"70ᵗʰ cycle","mode":"dis","cap":69,"volt":0.77},{"cycle":"70ᵗʰ cycle","mode":"dis","cap":75.8,"volt":0.69},{"cycle":"70ᵗʰ cycle","mode":"dis","cap":83,"volt":0.59},{"cycle":"70ᵗʰ cycle","mode":"dis","cap":90.3,"volt":0.5}
              ]},
              "mark": {"type": "line", "strokeWidth": 3, "interpolate": "monotone"},
              "encoding": {
                "x": {"field": "cap", "type": "quantitative", "scale": {"domain": [-5, 150], "nice": false, "zero": false},
                  "axis": {"values": [0,10,20,30,40,50,60,70,80,90,100,110,120,130,140,150], "format": "d",
                    "labelExpr": "datum.value % 20 == 0 ? datum.label : ''",
                    "tickSize": {"condition": {"test": "datum.value % 20 == 0", "value": 6}, "value": 3.5},
                    "labelFontSize": 15, "labelPadding": 4, "title": "Specific Capacity (mAh/g)", "titleFontSize": 18, "titleY": 46, "titleBaseline": "middle"}},
                "y": {"field": "volt", "type": "quantitative", "scale": {"domain": [0, 3.75], "nice": false, "zero": false},
                  "axis": {"values": [0.5,0.75,1,1.25,1.5,1.75,2,2.25,2.5,2.75,3,3.25,3.5],
                    "labelExpr": "(datum.value * 2) % 1 == 0 ? replace(format(datum.value, '.1f'), '.', ',') : ''",
                    "tickSize": {"condition": {"test": "(datum.value * 2) % 1 == 0", "value": 6}, "value": 3.5},
                    "labelFontSize": 15, "labelPadding": 3, "labelOverlap": false, "labelBound": false, "title": "Voltage (V)", "titleFontSize": 18, "titleX": -70, "titleBaseline": "middle"}},
                "color": {"field": "cycle", "type": "nominal", "sort": null,
                  "scale": {"domain": ["10ᵗʰ cycle", "30ᵗʰ cycle", "50ᵗʰ cycle", "70ᵗʰ cycle"], "range": ["#505050", "#ef3f3f", "#2a6fdc", "#3aa86a"]},
                  "legend": {"title": null, "orient": "none", "legendX": 239, "legendY": 126, "symbolType": "M-4,0H4", "symbolSize": 100, "symbolStrokeWidth": 3, "labelFontSize": 16, "labelOffset": 17, "rowPadding": 8, "labelLimit": 300}},
                "detail": {"field": "mode"}
              }
            },
            {
              "data": {"values": [{"cap": 99.1, "volt": 0.34, "label": "2"}]},
              "mark": {"type": "text", "fontSize": 15, "color": "#3aa86a", "align": "center", "baseline": "middle"},
              "encoding": {"x": {"field": "cap", "type": "quantitative"}, "y": {"field": "volt", "type": "quantitative"}, "text": {"field": "label"}}
            },
            {
              "data": {"values": [{"cap": 110.6, "volt": 0.34, "label": "1"}]},
              "mark": {"type": "text", "fontSize": 15, "color": "#2a6fdc", "align": "center", "baseline": "middle"},
              "encoding": {"x": {"field": "cap", "type": "quantitative"}, "y": {"field": "volt", "type": "quantitative"}, "text": {"field": "label"}}
            },
            {
              "data": {"values": [{"cap": 120.2, "volt": 0.34, "label": "0.5"}]},
              "mark": {"type": "text", "fontSize": 15, "color": "#ef3f3f", "align": "center", "baseline": "middle"},
              "encoding": {"x": {"field": "cap", "type": "quantitative"}, "y": {"field": "volt", "type": "quantitative"}, "text": {"field": "label"}}
            },
            {
              "data": {"values": [{"cap": 130.9, "volt": 0.34, "label": "0.2"}]},
              "mark": {"type": "text", "fontSize": 15, "color": "#555555", "align": "center", "baseline": "middle"},
              "encoding": {"x": {"field": "cap", "type": "quantitative"}, "y": {"field": "volt", "type": "quantitative"}, "text": {"field": "label"}}
            },
            {
              "data": {"values": [{"cap": 142.3, "volt": 0.34, "label": "A/g"}]},
              "mark": {"type": "text", "fontSize": 15, "fontWeight": "bold", "color": "#555555", "align": "center", "baseline": "middle"},
              "encoding": {"x": {"field": "cap", "type": "quantitative"}, "y": {"field": "volt", "type": "quantitative"}, "text": {"field": "label"}}
            },
            {
              "data": {"values": [{"cap": -2.6, "volt": 3.52, "label": "CuTPyP-MOF"}]},
              "mark": {"type": "text", "fontSize": 16, "color": "black", "align": "left", "baseline": "middle"},
              "encoding": {"x": {"field": "cap", "type": "quantitative"}, "y": {"field": "volt", "type": "quantitative"}, "text": {"field": "label"}}
            },
            {
              "data": {"values": [{"cap": 97, "cap_end": 136.5, "volt": 0.12}]},
              "mark": {"type": "rule", "color": "black", "strokeWidth": 1.8, "strokeDash": [10, 4, 3, 4]},
              "encoding": {"x": {"field": "cap", "type": "quantitative"}, "x2": {"field": "cap_end"}, "y": {"field": "volt", "type": "quantitative"}}
            },
            {
              "data": {"values": [{"cap": 94.8, "volt": 0.12, "label": "◀"}]},
              "mark": {"type": "text", "fontSize": 11, "color": "black", "align": "center", "baseline": "middle", "font": "DejaVu Sans"},
              "encoding": {"x": {"field": "cap", "type": "quantitative"}, "y": {"field": "volt", "type": "quantitative"}, "text": {"field": "label"}}
            }
          ]
        },
        {
          "width": 353,
          "height": 337,
          "title": {"text": "(d)", "anchor": "start", "frame": "group", "offset": 0, "dx": -48, "dy": -14, "fontSize": 15},
          "layer": [
            {
              "data": {"values": [
                {"cycle":"500ᵗʰ cycle","mode":"ch","cap":0,"volt":0.55},{"cycle":"500ᵗʰ cycle","mode":"ch","cap":0.5,"volt":0.62},{"cycle":"500ᵗʰ cycle","mode":"ch","cap":1.5,"volt":0.68},{"cycle":"500ᵗʰ cycle","mode":"ch","cap":4.2,"volt":0.74},{"cycle":"500ᵗʰ cycle","mode":"ch","cap":11.4,"volt":0.81},{"cycle":"500ᵗʰ cycle","mode":"ch","cap":21.5,"volt":0.95},{"cycle":"500ᵗʰ cycle","mode":"ch","cap":29,"volt":1.08},{"cycle":"500ᵗʰ cycle","mode":"ch","cap":36.7,"volt":1.23},{"cycle":"500ᵗʰ cycle","mode":"ch","cap":43,"volt":1.33},{"cycle":"500ᵗʰ cycle","mode":"ch","cap":49.4,"volt":1.44},{"cycle":"500ᵗʰ cycle","mode":"ch","cap":55,"volt":1.52},{"cycle":"500ᵗʰ cycle","mode":"ch","cap":59.6,"volt":1.58},{"cycle":"500ᵗʰ cycle","mode":"ch","cap":63.5,"volt":1.64},{"cycle":"500ᵗʰ cycle","mode":"ch","cap":67.2,"volt":1.71},{"cycle":"500ᵗʰ cycle","mode":"ch","cap":71,"volt":1.8},{"cycle":"500ᵗʰ cycle","mode":"ch","cap":74.8,"volt":1.89},{"cycle":"500ᵗʰ cycle","mode":"ch","cap":78,"volt":2.0},{"cycle":"500ᵗʰ cycle","mode":"ch","cap":81.1,"volt":2.1},{"cycle":"500ᵗʰ cycle","mode":"ch","cap":85.5,"volt":2.28},{"cycle":"500ᵗʰ cycle","mode":"ch","cap":90,"volt":2.48},{"cycle":"500ᵗʰ cycle","mode":"ch","cap":94,"volt":2.67},{"cycle":"500ᵗʰ cycle","mode":"ch","cap":97.6,"volt":2.86},{"cycle":"500ᵗʰ cycle","mode":"ch","cap":101,"volt":3.0},{"cycle":"500ᵗʰ cycle","mode":"ch","cap":104.5,"volt":3.11},{"cycle":"500ᵗʰ cycle","mode":"ch","cap":108,"volt":3.2},{"cycle":"500ᵗʰ cycle","mode":"ch","cap":111,"volt":3.26},{"cycle":"500ᵗʰ cycle","mode":"ch","cap":113.4,"volt":3.3},
                {"cycle":"500ᵗʰ cycle","mode":"dis","cap":0.3,"volt":3.26},{"cycle":"500ᵗʰ cycle","mode":"dis","cap":1.5,"volt":3.15},{"cycle":"500ᵗʰ cycle","mode":"dis","cap":3.8,"volt":2.96},{"cycle":"500ᵗʰ cycle","mode":"dis","cap":7.5,"volt":2.83},{"cycle":"500ᵗʰ cycle","mode":"dis","cap":11.4,"volt":2.69},{"cycle":"500ᵗʰ cycle","mode":"dis","cap":16,"volt":2.5},{"cycle":"500ᵗʰ cycle","mode":"dis","cap":21.5,"volt":2.31},{"cycle":"500ᵗʰ cycle","mode":"dis","cap":27,"volt":2.05},{"cycle":"500ᵗʰ cycle","mode":"dis","cap":32.9,"volt":1.78},{"cycle":"500ᵗʰ cycle","mode":"dis","cap":36,"volt":1.66},{"cycle":"500ᵗʰ cycle","mode":"dis","cap":39.3,"volt":1.54},{"cycle":"500ᵗʰ cycle","mode":"dis","cap":45,"volt":1.41},{"cycle":"500ᵗʰ cycle","mode":"dis","cap":51.9,"volt":1.3},{"cycle":"500ᵗʰ cycle","mode":"dis","cap":57,"volt":1.21},{"cycle":"500ᵗʰ cycle","mode":"dis","cap":62.1,"volt":1.13},{"cycle":"500ᵗʰ cycle","mode":"dis","cap":68,"volt":1.04},{"cycle":"500ᵗʰ cycle","mode":"dis","cap":74.8,"volt":0.95},{"cycle":"500ᵗʰ cycle","mode":"dis","cap":81,"volt":0.88},{"cycle":"500ᵗʰ cycle","mode":"dis","cap":87.4,"volt":0.81},{"cycle":"500ᵗʰ cycle","mode":"dis","cap":93,"volt":0.76},{"cycle":"500ᵗʰ cycle","mode":"dis","cap":100.1,"volt":0.71},{"cycle":"500ᵗʰ cycle","mode":"dis","cap":107,"volt":0.61},{"cycle":"500ᵗʰ cycle","mode":"dis","cap":113.4,"volt":0.5},
                {"cycle":"1000ᵗʰ cycle","mode":"ch","cap":0,"volt":0.55},{"cycle":"1000ᵗʰ cycle","mode":"ch","cap":0.5,"volt":0.62},{"cycle":"1000ᵗʰ cycle","mode":"ch","cap":1.5,"volt":0.68},{"cycle":"1000ᵗʰ cycle","mode":"ch","cap":3.8,"volt":0.74},{"cycle":"1000ᵗʰ cycle","mode":"ch","cap":11.4,"volt":0.88},{"cycle":"1000ᵗʰ cycle","mode":"ch","cap":17,"volt":0.98},{"cycle":"1000ᵗʰ cycle","mode":"ch","cap":24.1,"volt":1.09},{"cycle":"1000ᵗʰ cycle","mode":"ch","cap":32,"volt":1.2},{"cycle":"1000ᵗʰ cycle","mode":"ch","cap":39.3,"volt":1.33},{"cycle":"1000ᵗʰ cycle","mode":"ch","cap":45.5,"volt":1.42},{"cycle":"1000ᵗʰ cycle","mode":"ch","cap":51.9,"volt":1.51},{"cycle":"1000ᵗʰ cycle","mode":"ch","cap":57,"volt":1.59},{"cycle":"1000ᵗʰ cycle","mode":"ch","cap":62.1,"volt":1.68},{"cycle":"1000ᵗʰ cycle","mode":"ch","cap":65.9,"volt":1.78},{"cycle":"1000ᵗʰ cycle","mode":"ch","cap":70,"volt":1.88},{"cycle":"1000ᵗʰ cycle","mode":"ch","cap":75,"volt":2.0},{"cycle":"1000ᵗʰ cycle","mode":"ch","cap":80,"volt":2.13},{"cycle":"1000ᵗʰ cycle","mode":"ch","cap":84.9,"volt":2.27},{"cycle":"1000ᵗʰ cycle","mode":"ch","cap":89.5,"volt":2.46},{"cycle":"1000ᵗʰ cycle","mode":"ch","cap":93.8,"volt":2.65},{"cycle":"1000ᵗʰ cycle","mode":"ch","cap":97,"volt":2.81},{"cycle":"1000ᵗʰ cycle","mode":"ch","cap":100.1,"volt":2.96},{"cycle":"1000ᵗʰ cycle","mode":"ch","cap":103.5,"volt":3.1},{"cycle":"1000ᵗʰ cycle","mode":"ch","cap":106.4,"volt":3.21},{"cycle":"1000ᵗʰ cycle","mode":"ch","cap":110,"volt":3.27},{"cycle":"1000ᵗʰ cycle","mode":"ch","cap":113.4,"volt":3.3},
                {"cycle":"1000ᵗʰ cycle","mode":"dis","cap":0.3,"volt":3.25},{"cycle":"1000ᵗʰ cycle","mode":"dis","cap":1.5,"volt":3.13},{"cycle":"1000ᵗʰ cycle","mode":"dis","cap":4.5,"volt":2.98},{"cycle":"1000ᵗʰ cycle","mode":"dis","cap":8.5,"volt":2.85},{"cycle":"1000ᵗʰ cycle","mode":"dis","cap":13.9,"volt":2.69},{"cycle":"1000ᵗʰ cycle","mode":"dis","cap":19,"volt":2.5},{"cycle":"1000ᵗʰ cycle","mode":"dis","cap":24,"volt":2.31},{"cycle":"1000ᵗʰ cycle","mode":"dis","cap":29.5,"volt":2.05},{"cycle":"1000ᵗʰ cycle","mode":"dis","cap":34.8,"volt":1.78},{"cycle":"1000ᵗʰ cycle","mode":"dis","cap":38,"volt":1.67},{"cycle":"1000ᵗʰ cycle","mode":"dis","cap":44.4,"volt":1.54},{"cycle":"1000ᵗʰ cycle","mode":"dis","cap":50,"volt":1.42},{"cycle":"1000ᵗʰ cycle","mode":"dis","cap":57,"volt":1.3},{"cycle":"1000ᵗʰ cycle","mode":"dis","cap":63,"volt":1.2},{"cycle":"1000ᵗʰ cycle","mode":"dis","cap":69.7,"volt":1.09},{"cycle":"1000ᵗʰ cycle","mode":"dis","cap":76,"volt":1.0},{"cycle":"1000ᵗʰ cycle","mode":"dis","cap":82.3,"volt":0.92},{"cycle":"1000ᵗʰ cycle","mode":"dis","cap":88.5,"volt":0.85},{"cycle":"1000ᵗʰ cycle","mode":"dis","cap":95,"volt":0.78},{"cycle":"1000ᵗʰ cycle","mode":"dis","cap":104,"volt":0.65},{"cycle":"1000ᵗʰ cycle","mode":"dis","cap":113.4,"volt":0.5},
                {"cycle":"2000ᵗʰ cycle","mode":"ch","cap":0,"volt":0.55},{"cycle":"2000ᵗʰ cycle","mode":"ch","cap":0.5,"volt":0.65},{"cycle":"2000ᵗʰ cycle","mode":"ch","cap":2.5,"volt":0.78},{"cycle":"2000ᵗʰ cycle","mode":"ch","cap":8.9,"volt":0.95},{"cycle":"2000ᵗʰ cycle","mode":"ch","cap":20.3,"volt":1.16},{"cycle":"2000ᵗʰ cycle","mode":"ch","cap":32.9,"volt":1.37},{"cycle":"2000ᵗʰ cycle","mode":"ch","cap":45.6,"volt":1.58},{"cycle":"2000ᵗʰ cycle","mode":"ch","cap":50.5,"volt":1.67},{"cycle":"2000ᵗʰ cycle","mode":"ch","cap":55.8,"volt":1.78},{"cycle":"2000ᵗʰ cycle","mode":"ch","cap":62.1,"volt":1.92},{"cycle":"2000ᵗʰ cycle","mode":"ch","cap":68,"volt":2.08},{"cycle":"2000ᵗʰ cycle","mode":"ch","cap":74.8,"volt":2.27},{"cycle":"2000ᵗʰ cycle","mode":"ch","cap":80,"volt":2.45},{"cycle":"2000ᵗʰ cycle","mode":"ch","cap":84.9,"volt":2.62},{"cycle":"2000ᵗʰ cycle","mode":"ch","cap":89.5,"volt":2.82},{"cycle":"2000ᵗʰ cycle","mode":"ch","cap":93.8,"volt":3.0},{"cycle":"2000ᵗʰ cycle","mode":"ch","cap":97.5,"volt":3.15},{"cycle":"2000ᵗʰ cycle","mode":"ch","cap":101.1,"volt":3.3},
                {"cycle":"2000ᵗʰ cycle","mode":"dis","cap":0.3,"volt":3.25},{"cycle":"2000ᵗʰ cycle","mode":"dis","cap":1.5,"volt":3.13},{"cycle":"2000ᵗʰ cycle","mode":"dis","cap":4.5,"volt":2.98},{"cycle":"2000ᵗʰ cycle","mode":"dis","cap":8.5,"volt":2.85},{"cycle":"2000ᵗʰ cycle","mode":"dis","cap":13.9,"volt":2.69},{"cycle":"2000ᵗʰ cycle","mode":"dis","cap":19,"volt":2.5},{"cycle":"2000ᵗʰ cycle","mode":"dis","cap":24,"volt":2.31},{"cycle":"2000ᵗʰ cycle","mode":"dis","cap":29.5,"volt":2.05},{"cycle":"2000ᵗʰ cycle","mode":"dis","cap":34.8,"volt":1.78},{"cycle":"2000ᵗʰ cycle","mode":"dis","cap":38,"volt":1.66},{"cycle":"2000ᵗʰ cycle","mode":"dis","cap":41.8,"volt":1.55},{"cycle":"2000ᵗʰ cycle","mode":"dis","cap":48,"volt":1.42},{"cycle":"2000ᵗʰ cycle","mode":"dis","cap":54.5,"volt":1.3},{"cycle":"2000ᵗʰ cycle","mode":"dis","cap":61,"volt":1.18},{"cycle":"2000ᵗʰ cycle","mode":"dis","cap":67.2,"volt":1.06},{"cycle":"2000ᵗʰ cycle","mode":"dis","cap":73.5,"volt":0.95},{"cycle":"2000ᵗʰ cycle","mode":"dis","cap":79.8,"volt":0.85},{"cycle":"2000ᵗʰ cycle","mode":"dis","cap":85,"volt":0.76},{"cycle":"2000ᵗʰ cycle","mode":"dis","cap":90,"volt":0.67},{"cycle":"2000ᵗʰ cycle","mode":"dis","cap":96,"volt":0.58},{"cycle":"2000ᵗʰ cycle","mode":"dis","cap":101.4,"volt":0.5}
              ]},
              "mark": {"type": "line", "strokeWidth": 3, "interpolate": "monotone"},
              "encoding": {
                "x": {"field": "cap", "type": "quantitative", "scale": {"domain": [-4, 130.1], "nice": false, "zero": false},
                  "axis": {"values": [0,10,20,30,40,50,60,70,80,90,100,110,120], "format": "d",
                    "labelExpr": "datum.value % 20 == 0 ? datum.label : ''",
                    "tickSize": {"condition": {"test": "datum.value % 20 == 0", "value": 6}, "value": 3.5},
                    "labelFontSize": 15, "labelPadding": 6, "title": "Specific Capacity (mAh/g)", "titleFontSize": 18, "titleY": 44, "titleBaseline": "middle"}},
                "y": {"field": "volt", "type": "quantitative", "scale": {"domain": [0.25, 3.75], "nice": false, "zero": false},
                  "axis": {"values": [0.5,0.75,1,1.25,1.5,1.75,2,2.25,2.5,2.75,3,3.25,3.5],
                    "labelExpr": "(datum.value * 2) % 1 == 0 ? replace(format(datum.value, '.1f'), '.', ',') : ''",
                    "tickSize": {"condition": {"test": "(datum.value * 2) % 1 == 0", "value": 6}, "value": 3.5},
                    "labelFontSize": 15, "labelPadding": 3, "title": "Voltage (V)", "titleFontSize": 18, "titleX": -45, "titleBaseline": "middle"}},
                "color": {"field": "cycle", "type": "nominal", "sort": null,
                  "scale": {"domain": ["500ᵗʰ cycle", "1000ᵗʰ cycle", "2000ᵗʰ cycle"], "range": ["#505050", "#ef3f3f", "#2a6fdc"]},
                  "legend": {"title": null, "orient": "none", "legendX": 209, "legendY": 190, "symbolType": "M-4,0H4", "symbolSize": 100, "symbolStrokeWidth": 3, "labelFontSize": 16, "labelOffset": 20, "rowPadding": 8, "labelLimit": 300}},
                "detail": {"field": "mode"}
              }
            },
            {
              "data": {"values": [{"cap": -2.7, "volt": 3.58, "label": "CuTPyP-MOF"}]},
              "mark": {"type": "text", "fontSize": 16, "color": "black", "align": "left", "baseline": "middle"},
              "encoding": {"x": {"field": "cap", "type": "quantitative"}, "y": {"field": "volt", "type": "quantitative"}, "text": {"field": "label"}}
            },
            {
              "data": {"values": [{"cap": 48.5, "volt": 0.61, "label": "Current density: 1 A/g"}]},
              "mark": {"type": "text", "fontSize": 17, "fontWeight": "bold", "color": "black", "align": "center", "baseline": "middle"},
              "encoding": {"x": {"field": "cap", "type": "quantitative"}, "y": {"field": "volt", "type": "quantitative"}, "text": {"field": "label"}}
            }
          ]
        }
      ]
    }
  ]
}
